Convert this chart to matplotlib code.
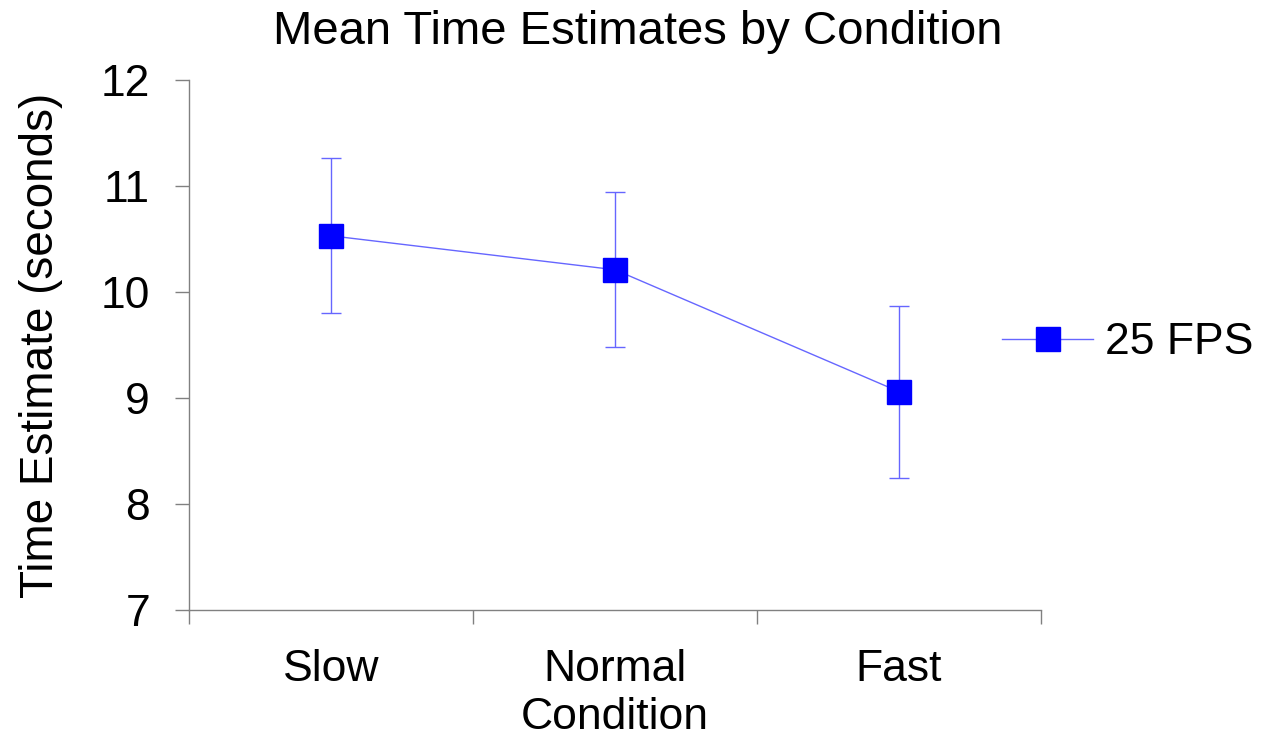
import numpy as np
import matplotlib.pyplot as plt
from matplotlib.lines import Line2D

plt.rcParams['font.family'] = ['Liberation Sans', 'DejaVu Sans']

# data
conditions = ['Slow', 'Normal', 'Fast']
mean_time = [10.53, 10.21, 9.06]
err_time = [0.73, 0.73, 0.81]
series_name = '25 FPS'

fig = plt.figure(figsize=(12.75, 7.36), dpi=100)
ax = fig.add_axes([189/1275, 1 - 610/736, (1041 - 189)/1275, (610 - 80)/736])

x = np.arange(len(conditions))
line_col = '#6666ff'
mk = dict(marker='s', markersize=17, markerfacecolor='#0000ff',
          markeredgecolor='#0000ff')
ax.errorbar(x, mean_time, yerr=err_time, color=line_col, lw=1.0,
            ecolor=line_col, elinewidth=1.0, capsize=7.5, capthick=1.0, **mk)

ax.set_xlim(-0.5, 2.5)
ax.set_ylim(7, 12)
ax.set_yticks([7, 8, 9, 10, 11, 12])
ax.set_xticks([-0.5, 0.5, 1.5, 2.5])
ax.set_xticklabels([])
ax.set_xticks(x, minor=True)
ax.set_xticklabels(conditions, minor=True)

grey = '#808080'
for s in ['top', 'right']:
    ax.spines[s].set_visible(False)
for s in ['left', 'bottom']:
    ax.spines[s].set_color(grey)
    ax.spines[s].set_linewidth(1.0)

ax.tick_params(axis='y', direction='out', length=10, width=1.0, color=grey,
               labelsize=32, pad=18)
ax.tick_params(axis='x', which='major', direction='out', length=10, width=1.0,
               color=grey)
ax.tick_params(axis='x', which='minor', length=0, labelsize=32, pad=28)

ax.set_xlabel('Condition', fontsize=32, labelpad=5)
ax.set_ylabel('Time Estimate (seconds)', fontsize=33, labelpad=27)

fig.text(0.5, 1 - 32/736, 'Mean Time Estimates by Condition', fontsize=34,
         ha='center', va='center')

handle = Line2D([], [], color=line_col, lw=1.0, **mk)
fig.legend([handle], [series_name], loc='center left',
           bbox_to_anchor=(1002/1275, 1 - 343/736),
           frameon=False, fontsize=32, handlelength=2.05, handletextpad=0.27,
           borderpad=0, borderaxespad=0)

fig.savefig('out.png', dpi=100)
